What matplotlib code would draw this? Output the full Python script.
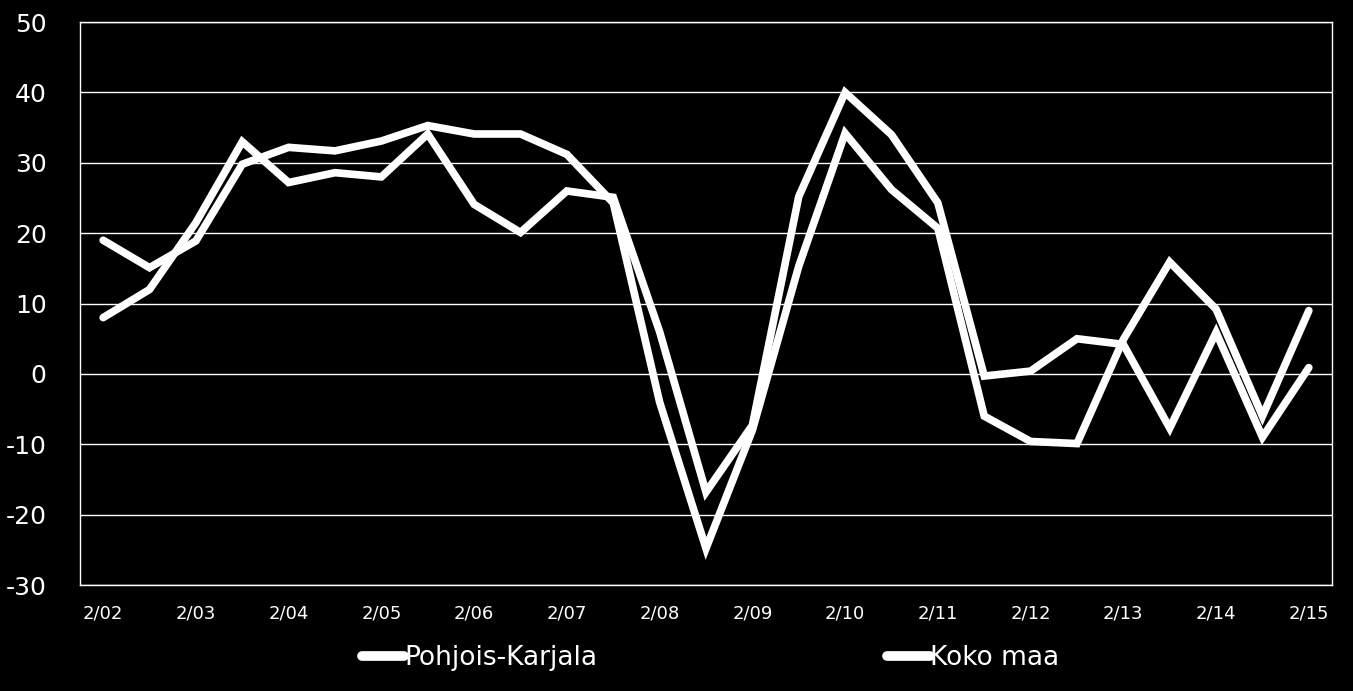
import matplotlib
matplotlib.use("Agg")
import matplotlib.pyplot as plt
import numpy as np

# half-year observations 2/02 ... 2/15
periods = [f"{m}/{y:02d}" for y in range(2, 16) for m in (2, 8)][:27]
tick_labels = [f"2/{y:02d}" for y in range(2, 16)]

pohjois_karjala = [8, 12, 21.5, 33, 27.2, 28.6, 28.0, 34.1, 24.1, 20.1, 26.0, 25.1,
                   6.0, -16.8, -7.3, 25.2, 40.0, 34.0, 24.3, -0.3, 0.4, 5.0,
                   4.2, -7.7, 5.9, -9.0, 0.9]
koko_maa = [19, 15.1, 18.9, 29.8, 32.2, 31.7, 33.1, 35.3, 34.1, 34.1, 31.2, 24.3,
            -4.0, -24.8, -8.0, 15.3, 34.2, 26.2, 20.7, -6.0, -9.6, -9.9,
            4.9, 15.9, 9.2, -6.0, 9.0]

plt.rcParams["font.family"] = ["DejaVu Sans"]
plt.rcParams["axes.unicode_minus"] = False

fig = plt.figure(figsize=(13.53, 6.91), dpi=100, facecolor="black")
ax = fig.add_axes([0.0591, 0.1534, 0.9254, 0.8146], facecolor="black")

x = np.arange(len(periods))
ax.plot(x, pohjois_karjala, color="white", lw=5.5, solid_joinstyle="miter",
        solid_capstyle="round", label="Pohjois-Karjala")
ax.plot(x, koko_maa, color="white", lw=5.5, solid_joinstyle="miter",
        solid_capstyle="round", label="Koko maa")

ax.set_xlim(-0.5, len(periods) - 0.5)
ax.set_ylim(-30, 50)
ax.set_yticks(range(-30, 51, 10))
ax.set_xticks(x[::2])
ax.set_xticklabels(tick_labels)
ax.grid(axis="y", color="white", lw=1)
ax.set_axisbelow(True)
for s in ax.spines.values():
    s.set_color("white")
    s.set_linewidth(1)
ax.tick_params(axis="both", length=0, colors="white")
ax.tick_params(axis="y", labelsize=18, pad=24)
ax.tick_params(axis="x", labelsize=13, pad=14)

leg = fig.legend(loc="center", bbox_to_anchor=(0.525, 0.048), ncol=2,
                 frameon=False, fontsize=19, handlelength=1.6,
                 handletextpad=0.0, columnspacing=11.0)
for t in leg.get_texts():
    t.set_color("white")
for h in leg.get_lines():
    h.set_linewidth(7)

fig.savefig("out.png", dpi=100, facecolor="black")
